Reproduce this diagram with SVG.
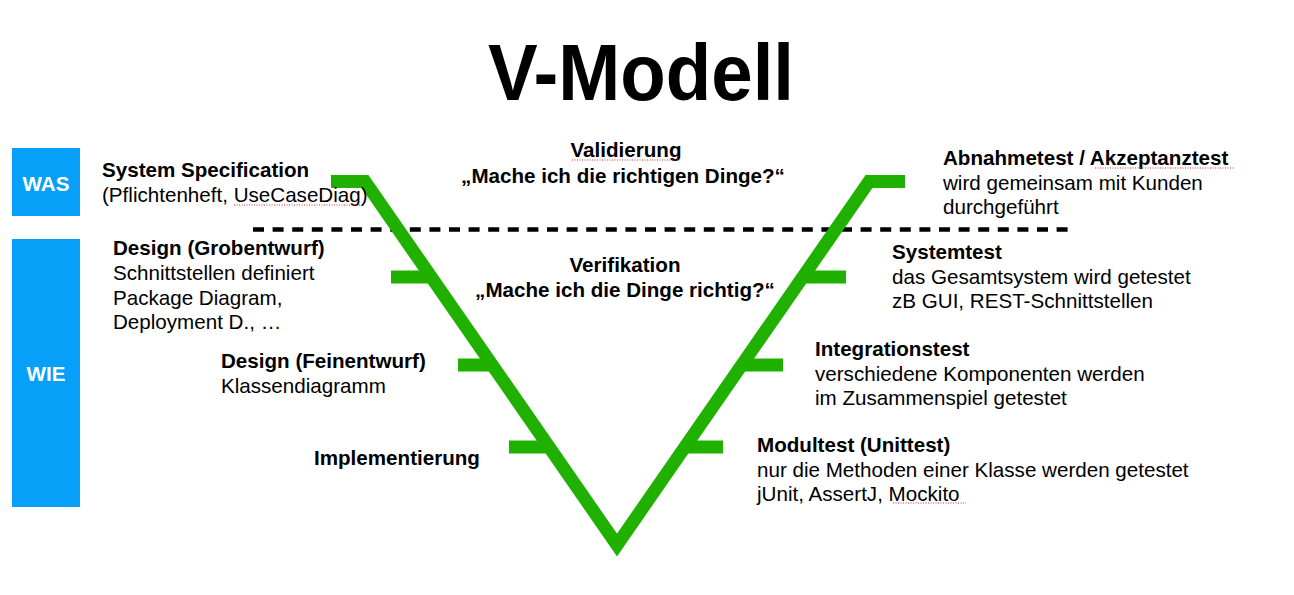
<svg xmlns="http://www.w3.org/2000/svg" width="1294" height="595" viewBox="0 0 1294 595">
<style>
text{font-family:"Liberation Sans",Arial,sans-serif;fill:#000}
.t{font-size:20.6px}
.b{font-size:20.6px;font-weight:bold}
.lbl{font-size:20.6px;font-weight:bold;fill:#fff}
.box{fill:#06A0F8}
.v{fill:none;stroke:#20B000;stroke-width:13;stroke-linejoin:miter}
.tick{stroke:#20B000;stroke-width:13}
.sp{stroke:#E03030;stroke-width:1;stroke-dasharray:1 1.5}
</style>
<rect width="1294" height="595" fill="#fff"/>
<g id="title"><text x="488" y="100" font-size="79" font-weight="bold" textLength="306" lengthAdjust="spacingAndGlyphs">V-Modell</text></g>

<g id="was"><rect class="box" x="12" y="148" width="68" height="68"/><text class="lbl" x="46" y="191" text-anchor="middle">WAS</text></g>
<g id="wie"><rect class="box" x="12" y="239" width="68" height="268"/><text class="lbl" x="46" y="381" text-anchor="middle">WIE</text></g>

<g id="connectors">
<line x1="253" y1="229.5" x2="1070" y2="229.5" stroke="#000" stroke-width="4.5" stroke-dasharray="11 8.6"/>
<polyline class="v" points="331,181.5 365,181.5 617,545 869,181.5 905,181.5"/>
<line class="tick" x1="391" y1="277" x2="432" y2="277"/>
<line class="tick" x1="458" y1="365" x2="493" y2="365"/>
<line class="tick" x1="509" y1="447" x2="549" y2="447"/>
<line class="tick" x1="802" y1="277" x2="846" y2="277"/>
<line class="tick" x1="741" y1="365" x2="783" y2="365"/>
<line class="tick" x1="684" y1="447" x2="723" y2="447"/>
</g>

<g id="sysspec"><text class="b" x="102" y="177">System Specification</text><text class="t" x="102" y="202">(Pflichtenheft, UseCaseDiag)</text><line class="sp" x1="234" y1="205" x2="360" y2="205"/></g>
<g id="grob"><text class="b" x="113" y="255">Design (Grobentwurf)</text><text class="t" x="113" y="280">Schnittstellen definiert</text><text class="t" x="113" y="305">Package Diagram,</text><text class="t" x="113" y="329">Deployment D., …</text></g>
<g id="fein"><text class="b" x="221" y="368">Design (Feinentwurf)</text><text class="t" x="221" y="393">Klassendiagramm</text></g>
<g id="impl"><text class="b" x="314" y="465">Implementierung</text></g>

<g id="valid"><text class="b" x="626" y="157" text-anchor="middle">Validierung</text><line class="sp" x1="572" y1="160" x2="680" y2="160"/><text class="b" x="623" y="183" text-anchor="middle">„Mache ich die richtigen Dinge?“</text></g>
<g id="verif"><text class="b" x="625" y="272" text-anchor="middle">Verifikation</text><text class="b" x="625" y="297" text-anchor="middle">„Mache ich die Dinge richtig?“</text></g>

<g id="abnahme"><text class="b" x="943" y="165">Abnahmetest / Akzeptanztest</text><line class="sp" x1="1095" y1="168" x2="1234" y2="168"/><text class="t" x="943" y="190">wird gemeinsam mit Kunden</text><text class="t" x="943" y="214">durchgeführt</text></g>
<g id="system"><text class="b" x="892" y="259">Systemtest</text><text class="t" x="892" y="284">das Gesamtsystem wird getestet</text><text class="t" x="892" y="308">zB GUI, REST-Schnittstellen</text></g>
<g id="integ"><text class="b" x="815" y="356">Integrationstest</text><text class="t" x="815" y="381">verschiedene Komponenten werden</text><text class="t" x="815" y="405">im Zusammenspiel getestet</text></g>
<g id="modul"><text class="b" x="757" y="452">Modultest (Unittest)</text><text class="t" x="757" y="477">nur die Methoden einer Klasse werden getestet</text><text class="t" x="757" y="501">jUnit, AssertJ, Mockito</text><line class="sp" x1="893" y1="503" x2="966" y2="503"/></g>
</svg>
